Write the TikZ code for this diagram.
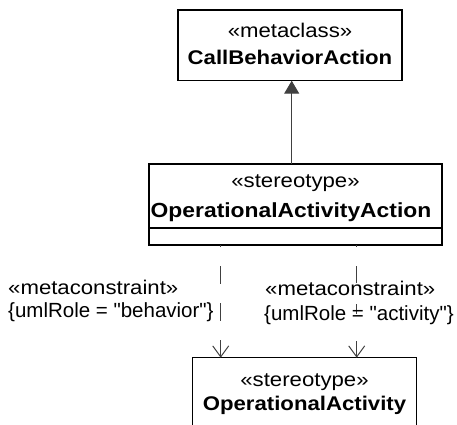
\documentclass[tikz,border=0pt]{standalone}
\usepackage{fontspec}
\setmainfont[FakeStretch=1.12]{Liberation Sans}
\newfontfamily\lblfont{Liberation Sans}
\usetikzlibrary{arrows.meta}
\definecolor{conn}{HTML}{404040}
\tikzset{
  umlbox/.style={draw=black, line width=1.3pt, fill=white, inner sep=0pt},
  txt/.style={inner sep=0pt, font=\fontsize{19.8}{22}\selectfont},
  lbl/.style={inner sep=0pt, font=\lblfont\fontsize{20.5}{22}\selectfont},
  btxt/.style={inner sep=0pt, font=\fontsize{19.8}{22}\selectfont\bfseries},
  gen/.style={draw=conn, line width=1pt, -{Triangle[length=13pt,width=15pt]}, fill=conn},
  dep/.style={draw=conn, line width=1pt,
    -{Straight Barb[length=11pt,width=16pt,line width=1pt]}},
}
\begin{document}
\begin{tikzpicture}[x=1pt,y=-1pt]
\useasboundingbox (0,0) rectangle (457,424);
\clip (0,0) rectangle (457,424);
% boxes
\node[umlbox, minimum width=224pt, minimum height=70.7pt] (top) at (290,45.3) {};
\node[umlbox, minimum width=293pt, minimum height=81pt] (mid) at (295.5,204.5) {};
\node[umlbox, minimum width=224.4pt, minimum height=90pt] (bot) at (304.5,402.7) {};
\coordinate (sepy) at (0,228);
\draw[line width=1.3pt] (mid.west |- sepy) -- (mid.east |- sepy);
% box texts
\node[txt] (t1) at (290,30) {«metaclass»};
\node[btxt] (t2) at (290,57.5) {CallBehaviorAction};
\node[txt] (m1) at (295.5,183) {«stereotype»};
\node[btxt, font=\fontsize{20.4}{22}\selectfont\bfseries] (m2) at (291,212) {OperationalActivityAction};
\node[txt] (b1) at (304.5,382) {«stereotype»};
\node[btxt] (b2) at (304.5,405.5) {OperationalActivity};
% generalization
\coordinate (gs) at (291.7,164);
\coordinate (ge) at (291.7,80.7);
\draw[gen] (gs) -- (ge);
% dependencies
\coordinate (d1s) at (220.7,245);
\coordinate (d1e) at (220.7,357.7);
\coordinate (d2s) at (356.7,245);
\coordinate (d2e) at (356.7,357.7);
\draw[dep, dash pattern=on 2pt off 19pt on 18pt off 19pt on 18pt off 19pt on 40pt] (d1s) -- (d1e);
\draw[dep, dash pattern=on 2pt off 19pt on 17pt off 21pt on 10pt off 27pt on 40pt] (d2s) -- (d2e);
% labels
\node[txt, anchor=west] (l1) at (8,287) {«metaconstraint»};
\node[lbl, anchor=west] (l2) at (8,312) {\{umlRole = \textquotedbl behavior\textquotedbl\}};
\node[txt, anchor=west] (r1) at (265,288) {«metaconstraint»};
\node[lbl, anchor=west] (r2) at (264,315) {\{umlRole = \textquotedbl activity\textquotedbl\}};
\end{tikzpicture}
\end{document}
